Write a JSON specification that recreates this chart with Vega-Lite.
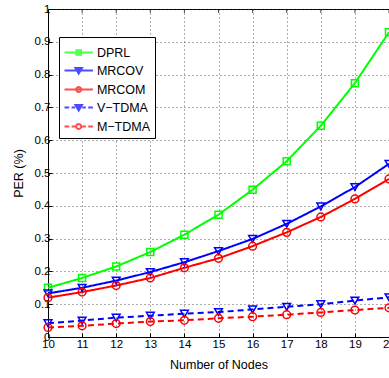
{
  "$schema": "https://vega.github.io/schema/vega-lite/v6.json",
  "width": 341,
  "height": 328,
  "autosize": {"type": "none"},
  "padding": {"left": 48, "top": 9, "right": 0, "bottom": 41},
  "config": {
    "view": {"stroke": "black", "strokeWidth": 1},
    "font": "Liberation Sans",
    "axis": {
      "domainColor": "black", "tickColor": "black", "labelColor": "black", "titleColor": "black",
      "labelFont": "Liberation Sans", "titleFont": "Liberation Sans",
      "labelFontSize": 11.5, "titleFontSize": 12.5, "titleFontWeight": "normal",
      "gridColor": "#333", "gridDash": [1, 3], "gridOpacity": 0.8, "gridWidth": 1,
      "tickSize": -4, "labelFlush": false, "labelOverlap": false
    }
  },
  "datasets": {
    "main": [
      {"series": "DPRL", "n": 10, "per": 0.15}, {"series": "DPRL", "n": 11, "per": 0.18}, {"series": "DPRL", "n": 12, "per": 0.215}, {"series": "DPRL", "n": 13, "per": 0.259}, {"series": "DPRL", "n": 14, "per": 0.312}, {"series": "DPRL", "n": 15, "per": 0.373}, {"series": "DPRL", "n": 16, "per": 0.449}, {"series": "DPRL", "n": 17, "per": 0.536}, {"series": "DPRL", "n": 18, "per": 0.644}, {"series": "DPRL", "n": 19, "per": 0.774}, {"series": "DPRL", "n": 20, "per": 0.929},
      {"series": "MRCOV", "n": 10, "per": 0.133}, {"series": "MRCOV", "n": 11, "per": 0.15}, {"series": "MRCOV", "n": 12, "per": 0.172}, {"series": "MRCOV", "n": 13, "per": 0.198}, {"series": "MRCOV", "n": 14, "per": 0.228}, {"series": "MRCOV", "n": 15, "per": 0.262}, {"series": "MRCOV", "n": 16, "per": 0.299}, {"series": "MRCOV", "n": 17, "per": 0.345}, {"series": "MRCOV", "n": 18, "per": 0.398}, {"series": "MRCOV", "n": 19, "per": 0.457}, {"series": "MRCOV", "n": 20, "per": 0.528},
      {"series": "MRCOM", "n": 10, "per": 0.12}, {"series": "MRCOM", "n": 11, "per": 0.137}, {"series": "MRCOM", "n": 12, "per": 0.157}, {"series": "MRCOM", "n": 13, "per": 0.18}, {"series": "MRCOM", "n": 14, "per": 0.211}, {"series": "MRCOM", "n": 15, "per": 0.24}, {"series": "MRCOM", "n": 16, "per": 0.277}, {"series": "MRCOM", "n": 17, "per": 0.319}, {"series": "MRCOM", "n": 18, "per": 0.366}, {"series": "MRCOM", "n": 19, "per": 0.421}, {"series": "MRCOM", "n": 20, "per": 0.482},
      {"series": "V−TDMA", "n": 10, "per": 0.042}, {"series": "V−TDMA", "n": 11, "per": 0.05}, {"series": "V−TDMA", "n": 12, "per": 0.059}, {"series": "V−TDMA", "n": 13, "per": 0.065}, {"series": "V−TDMA", "n": 14, "per": 0.071}, {"series": "V−TDMA", "n": 15, "per": 0.076}, {"series": "V−TDMA", "n": 16, "per": 0.084}, {"series": "V−TDMA", "n": 17, "per": 0.092}, {"series": "V−TDMA", "n": 18, "per": 0.1}, {"series": "V−TDMA", "n": 19, "per": 0.111}, {"series": "V−TDMA", "n": 20, "per": 0.121},
      {"series": "M−TDMA", "n": 10, "per": 0.029}, {"series": "M−TDMA", "n": 11, "per": 0.034}, {"series": "M−TDMA", "n": 12, "per": 0.041}, {"series": "M−TDMA", "n": 13, "per": 0.047}, {"series": "M−TDMA", "n": 14, "per": 0.051}, {"series": "M−TDMA", "n": 15, "per": 0.057}, {"series": "M−TDMA", "n": 16, "per": 0.062}, {"series": "M−TDMA", "n": 17, "per": 0.068}, {"series": "M−TDMA", "n": 18, "per": 0.075}, {"series": "M−TDMA", "n": 19, "per": 0.082}, {"series": "M−TDMA", "n": 20, "per": 0.089}
    ],
    "leg": [
      {"series": "DPRL", "n": 15, "per": -0.5},
      {"series": "MRCOV", "n": 15, "per": -0.5},
      {"series": "MRCOM", "n": 15, "per": -0.5},
      {"series": "V−TDMA", "n": 15, "per": -0.5},
      {"series": "M−TDMA", "n": 15, "per": -0.5}
    ],
    "topticks": [
      {"n": 10, "per": 1}, {"n": 11, "per": 1}, {"n": 12, "per": 1}, {"n": 13, "per": 1}, {"n": 14, "per": 1}, {"n": 15, "per": 1}, {"n": 16, "per": 1}, {"n": 17, "per": 1}, {"n": 18, "per": 1}, {"n": 19, "per": 1}, {"n": 20, "per": 1}
    ]
  },
  "encoding": {
    "x": {"field": "n", "type": "quantitative", "scale": {"domain": [10, 20], "nice": false, "zero": false},
          "axis": {"values": [10, 11, 12, 13, 14, 15, 16, 17, 18, 19, 20], "title": "Number of Nodes", "grid": true, "titleY": 31, "titleBaseline": "alphabetic", "labelPadding": 5}},
    "y": {"field": "per", "type": "quantitative", "scale": {"domain": [0, 1], "nice": false, "zero": false},
          "axis": {"values": [0, 0.1, 0.2, 0.3, 0.4, 0.5, 0.6, 0.7, 0.8, 0.9, 1], "format": "~g", "title": "PER (%)", "grid": true, "titleX": -30, "titleY": 164, "titleBaseline": "middle", "labelPadding": 2}}
  },
  "layer": [
    {
      "data": {"name": "topticks"},
      "mark": {"type": "tick", "orient": "vertical", "size": 8, "thickness": 1, "color": "black", "clip": true}
    },
    {
      "data": {"name": "main"},
      "mark": {"type": "line", "strokeWidth": 2},
      "encoding": {
        "color": {"field": "series", "type": "nominal", "legend": null,
                  "scale": {"domain": ["MRCOV", "DPRL", "MRCOM", "V−TDMA", "M−TDMA"], "range": ["#0000ff", "#00ff00", "#ff0000", "#0000ff", "#ff0000"]}},
        "strokeDash": {"field": "series", "type": "nominal", "legend": null,
                  "scale": {"domain": ["V−TDMA", "M−TDMA", "DPRL", "MRCOV", "MRCOM"], "range": [[6, 4], [6, 4], [1, 0], [1, 0], [1, 0]]}}
      }
    },
    {
      "data": {"name": "main"},
      "transform": [{"filter": "datum.series === 'DPRL'"}],
      "mark": {"type": "point", "shape": "square", "filled": false, "size": 49, "strokeWidth": 1.5, "opacity": 1},
      "encoding": {"color": {"field": "series", "type": "nominal", "legend": null}}
    },
    {
      "data": {"name": "main"},
      "transform": [{"filter": "datum.series === 'MRCOV' || datum.series === 'V−TDMA'"}],
      "mark": {"type": "point", "shape": "triangle-down", "filled": false, "size": 60, "strokeWidth": 1.5, "opacity": 1},
      "encoding": {"color": {"field": "series", "type": "nominal", "legend": null}}
    },
    {
      "data": {"name": "main"},
      "transform": [{"filter": "datum.series === 'MRCOM' || datum.series === 'M−TDMA'"}],
      "mark": {"type": "point", "shape": "circle", "filled": false, "size": 60, "strokeWidth": 1.5, "opacity": 1},
      "encoding": {"color": {"field": "series", "type": "nominal", "legend": null}}
    },
    {
      "data": {"name": "leg"},
      "mark": {"type": "point", "filled": false, "size": 400, "strokeWidth": 2, "clip": true},
      "encoding": {
        "stroke": {"field": "series", "type": "nominal",
                   "scale": {"domain": ["DPRL", "MRCOV", "MRCOM", "V−TDMA", "M−TDMA"], "range": ["#00ff00", "#0000ff", "#ff0000", "#0000ff", "#ff0000"]},
                   "legend": {"orient": "none", "legendX": 11, "legendY": 28, "title": null, "strokeColor": "black", "fillColor": "white", "padding": 4.5, "symbolSize": 400, "symbolStrokeWidth": 2, "labelFontSize": 12.5, "labelFont": "Liberation Sans", "labelColor": "black", "labelOffset": 11.4, "rowPadding": 0}},
        "shape": {"field": "series", "type": "nominal",
                  "scale": {"domain": ["DPRL", "MRCOV", "MRCOM", "V−TDMA", "M−TDMA"],
                            "range": [
                              "M-1,0L1.84,0M0.193,-0.227L0.647,-0.227L0.647,0.227L0.193,0.227Z",
                              "M-1,0L1.84,0M0.093,-0.241L0.747,-0.241L0.42,0.312ZM0.278,-0.128L0.562,-0.128L0.42,0.114Z",
                              "M-1,0L1.84,0M0.676,0L0.642,0.128L0.548,0.222L0.42,0.256L0.292,0.222L0.198,0.128L0.164,0L0.198,-0.128L0.292,-0.222L0.42,-0.256L0.548,-0.222L0.642,-0.128Z",
                              "M-1,0L-0.531,0M-0.29,0L0.065,0M0.775,0L1.13,0M1.371,0L1.84,0M0.093,-0.241L0.747,-0.241L0.42,0.312ZM0.278,-0.128L0.562,-0.128L0.42,0.114Z",
                              "M-1,0L-0.531,0M-0.29,0L0.065,0M0.775,0L1.13,0M1.371,0L1.84,0M0.676,0L0.642,0.128L0.548,0.222L0.42,0.256L0.292,0.222L0.198,0.128L0.164,0L0.198,-0.128L0.292,-0.222L0.42,-0.256L0.548,-0.222L0.642,-0.128Z"
                            ]}}
      }
    }
  ]
}
